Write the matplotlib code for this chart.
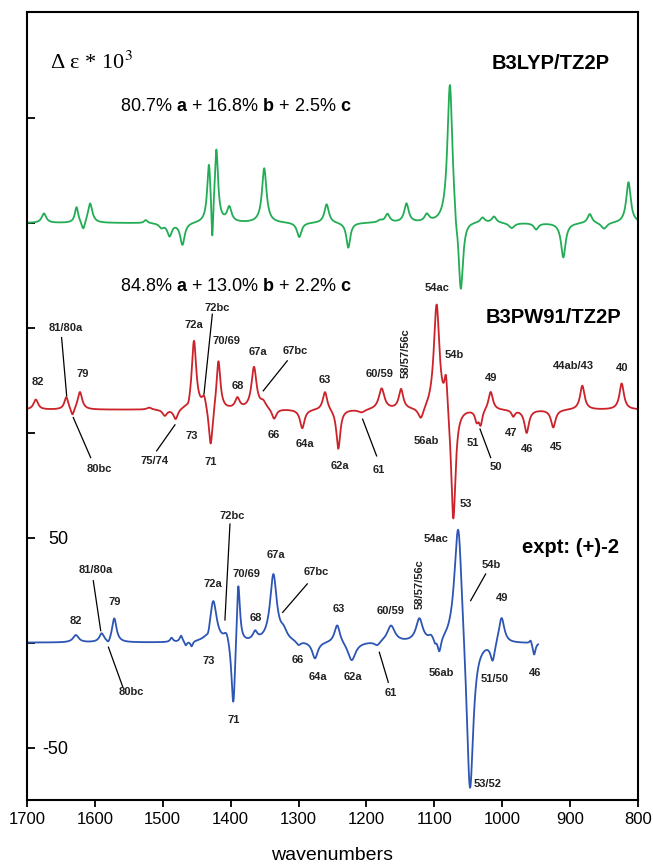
import numpy as np
import matplotlib.pyplot as plt

plt.rcParams['font.family'] = ['Liberation Sans', 'DejaVu Sans']
plt.rcParams['mathtext.fontset'] = 'custom'
plt.rcParams['mathtext.rm'] = 'Liberation Sans'
plt.rcParams['mathtext.bf'] = 'Liberation Sans:bold'

# bands: centre (cm-1), signed peak height, half width
b3lyp_pos = [1675, 1627, 1617, 1607, 1525, 1502, 1490, 1471, 1432, 1427, 1421, 1402,
             1350.5, 1299, 1258.6, 1226.7, 1180, 1169, 1141, 1111, 1077, 1068, 1061,
             1029, 1012, 986, 950, 910, 871, 850, 814]
b3lyp_amp = [4.5, 7.5, -4.5, 9.5, 1.5, -2, -6, -10.5, 27, -20, 34, 7,
             26, -7, 9, -12, 1, 4, 9, 3.5, 68, -5, -36,
             2.5, 3, -2.5, -3, -16.5, 4.5, -3, 19.5]
b3lyp_hw = [4, 3, 3, 4, 3, 4, 4, 4, 3, 1.5, 3, 4,
            4, 4, 4, 3.5, 4, 4, 4, 4, 4.5, 2, 4,
            4, 4, 5, 4, 4, 4, 5, 4]

b3pw91_pos = [1687, 1642, 1633, 1622, 1520, 1497, 1481, 1462, 1454, 1439, 1429.4, 1418,
              1390, 1365.6, 1352, 1336, 1294.5, 1261, 1241.4, 1207, 1177.6, 1149, 1119.7,
              1096.6, 1082.8, 1072, 1037.6, 1031.8, 1017, 983.7, 964, 924.8, 882, 824]
b3pw91_amp = [4.8, 6, -4, 8.5, 1, -3, -5, -2.5, 33, 6, -20, 24,
              5, 20, 3, -5, -9, 9, -19, -1.5, 10, 9.5, -6,
              51, 17, -55, -5, -7, 9, -3, -11, -8.5, 11.5, 12.5]
b3pw91_hw = [4, 3.5, 3, 4, 4, 4, 4, 3, 4, 4, 3.5, 3.5,
             4, 4.5, 5, 4, 4, 4, 3.5, 6, 5, 4, 5,
             5, 3, 4, 3, 3, 4, 3, 4, 4, 4, 4]

expt_pos = [1628, 1590, 1580, 1571.4, 1487, 1473, 1466, 1457.5, 1433, 1425.6, 1406, 1396,
            1388.8, 1364, 1337, 1322, 1300, 1275.8, 1243, 1221.7, 1184, 1163.8, 1122,
            1105, 1099, 1092.6, 1064.7, 1047.5, 1014, 1001, 958, 953]
expt_amp = [3.5, 4, -2, 11.5, 2, 3, -2, -2.5, -3, 20, 5, -35,
            32, 4, 32, 4, -2, -8, 9, -9, -2, 8, 11,
            2, -2, -7, 62, -78, -9, 13, 2, -6]
expt_hw = [5, 4, 3, 4, 2.5, 2.5, 2, 2, 3, 6, 5, 3.5,
           3, 4, 6, 6, 4, 5, 5, 7, 5, 7, 6,
           4, 2, 3, 7, 6, 4, 5, 2, 2.5]

b3pw91_labels = [('82', 1684, 124), ('81/80a', 1643, 150), ('79', 1618.5, 128),
                 ('80bc', 1594, 82.7), ('75/74', 1511.5, 86.7), ('73', 1457.4, 98.6),
                 ('71', 1429.4, 86.2), ('72a', 1453.6, 151.3), ('72bc', 1419.7, 159.4),
                 ('70/69', 1405.9, 143.8), ('68', 1388.8, 122.4), ('67a', 1360.2, 138.7),
                 ('67bc', 1304.2, 139), ('66', 1337, 99), ('64a', 1290.5, 94.9),
                 ('63', 1261, 125.2), ('62a', 1239, 84.3), ('61', 1181.5, 82.4),
                 ('60/59', 1181, 127.9), ('56ab', 1111.3, 96.2), ('54ac', 1096.6, 168.9),
                 ('54b', 1071, 137.1), ('53', 1053.9, 66.3), ('51', 1043.6, 95.1),
                 ('50', 1009, 83.5), ('49', 1017, 126.3), ('47', 987, 99.7),
                 ('46', 964, 92.2), ('45', 921.3, 93.3), ('44ab/43', 895.3, 131.9),
                 ('40', 824, 130.8)]
b3pw91_lines = [((1649, 145.4), (1641.5, 117.6)), ((1631.8, 107.3), (1606.2, 88.2)),
                ((1509, 91.4), (1482, 103.8)), ((1427, 156.5), (1439.3, 118.4)),
                ((1316.6, 134.3), (1352, 120)), ((1205.6, 106.5), (1185, 89)),
                ((1032.7, 101.8), (1017, 88.2))]

expt_labels = [('82', 1627.8, 10.5), ('81/80a', 1598.8, 34.6), ('79', 1571.4, 19.2),
               ('80bc', 1545.8, -23.7), ('73', 1433, -8.9), ('71', 1395, -36.8),
               ('72a', 1425.6, 27.9), ('72bc', 1397, 60.5), ('70/69', 1377.4, 32.7),
               ('68', 1362.7, 11.8), ('67a', 1333.2, 41.8), ('67bc', 1274.3, 33.8),
               ('66', 1301.3, -8.3), ('64a', 1271, -16.2), ('63', 1241.4, 16),
               ('62a', 1219.4, -16.2), ('61', 1163.8, -24), ('60/59', 1163.8, 14.9),
               ('56ab', 1089.2, -14.6), ('54ac', 1097.6, 49.4), ('54b', 1015.6, 37.1),
               ('53/52', 1021, -67.3), ('51/50', 1010.7, -17.3), ('49', 1000, 21.1),
               ('46', 951.7, -14.6)]
expt_lines = [((1602.3, 29.5), (1591.4, 5.7)), ((1580, -2.2), (1559, -21)),
              ((1401, 56.5), (1408.4, 10.8)), ((1287.1, 28), (1323.4, 14.4)),
              ((1181, -4.6), (1167.8, -18.9)), ((1024.4, 32.7), (1046.5, 20))]


def spectrum(x, pos, amp, hw):
    y = np.zeros_like(x)
    for p, a, w in zip(pos, amp, hw):
        y += a * w ** 2 / ((x - p) ** 2 + w ** 2)
    return y


x = np.linspace(1700, 800, 4000)
x_expt = x[x >= 947]

fig = plt.figure(figsize=(6.53, 8.67), dpi=100)
ax = fig.add_axes([0.0413, 0.0773, 0.9357, 0.9087])

ax.plot(x, 200 + spectrum(x, b3lyp_pos, b3lyp_amp, b3lyp_hw), color='#22ad55', lw=1.3)
ax.plot(x, 111 + spectrum(x, b3pw91_pos, b3pw91_amp, b3pw91_hw), color='#cc2229', lw=1.3)
ax.plot(x_expt, spectrum(x_expt, expt_pos, expt_amp, expt_hw), color='#2d55b4', lw=1.3)

for txt, xx, yy in b3pw91_labels + expt_labels:
    ax.text(xx, yy, txt, fontsize=8, fontweight='bold', ha='center', va='center', color='#222222')
for (x1, y1), (x2, y2) in b3pw91_lines + expt_lines:
    ax.plot([x1, x2], [y1, y2], color='black', lw=0.9)
ax.text(1142.2, 137.8, '58/57/56c', fontsize=8, fontweight='bold', rotation=90,
        ha='center', va='center', color='#222222')
ax.text(1121, 27.9, '58/57/56c', fontsize=8, fontweight='bold', rotation=90,
        ha='center', va='center', color='#222222')

ax.text(928, 276, 'B3LYP/TZ2P', fontsize=14.5, fontweight='bold', ha='center', va='center')
ax.text(924.8, 154.9, 'B3PW91/TZ2P', fontsize=14.5, fontweight='bold', ha='center', va='center')
ax.text(900, 45.1, 'expt: (+)-2', fontsize=14.5, fontweight='bold', ha='center', va='center')
ax.text(1392, 255.7, r'80.7% $\mathbf{a}$ + 16.8% $\mathbf{b}$ + 2.5% $\mathbf{c}$',
        fontsize=13, ha='center', va='center')
ax.text(1392, 169.5, r'84.8% $\mathbf{a}$ + 13.0% $\mathbf{b}$ + 2.2% $\mathbf{c}$',
        fontsize=13, ha='center', va='center')
ax.text(1666, 276.2, r'Δ ε * 10$^3$', fontsize=16, family='Liberation Serif',
        math_fontfamily='stix', ha='left', va='center')

ax.set_xlim(1700, 800)
ax.set_ylim(-75, 300.5)
ax.set_xticks(range(1700, 799, -100))
ax.set_yticks([-50, 0, 50, 100, 150, 200, 250])
ax.set_yticklabels(['-50', '', '50', '', '', '', ''])
ax.tick_params(axis='x', direction='out', length=5, width=1.3, labelsize=12, pad=4)
ax.tick_params(axis='y', direction='in', length=6, width=1.3, labelsize=13, pad=-30)
ax.set_xlabel('wavenumbers', fontsize=14, labelpad=14)
for s in ax.spines.values():
    s.set_linewidth(1.5)

plt.savefig('out.png', dpi=100)
